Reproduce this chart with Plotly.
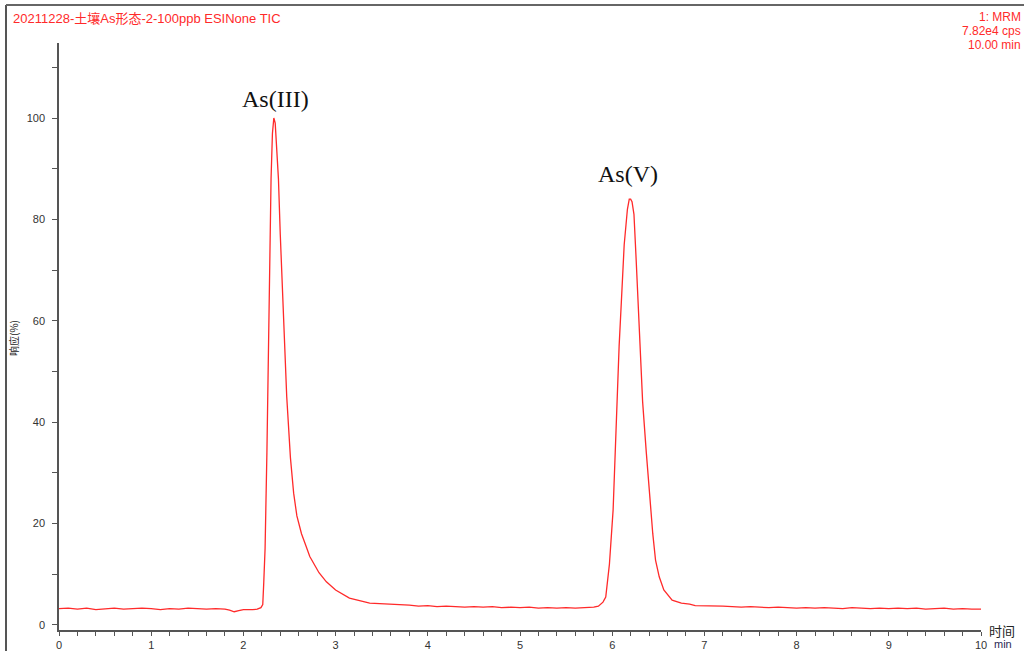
import plotly.graph_objects as go

# Retention time (min) and relative response (%) of the TIC trace
time_min = [
    0.00, 0.10, 0.20, 0.30, 0.40, 0.50, 0.60, 0.70, 0.80, 0.90,
    1.00, 1.10, 1.20, 1.30, 1.40, 1.50, 1.60, 1.70, 1.80, 1.85,
    1.90, 1.95, 2.00, 2.10, 2.15, 2.19,
    # As(III) peak
    2.21, 2.22, 2.235, 2.255, 2.27, 2.285, 2.30, 2.315, 2.33, 2.345,
    2.36, 2.38, 2.40, 2.43, 2.47, 2.51, 2.545, 2.58, 2.63, 2.67,
    2.72, 2.82, 2.90, 3.00, 3.15, 3.37, 3.50,
    # baseline between peaks
    3.60, 3.70, 3.80, 3.90, 4.00, 4.10, 4.20, 4.30, 4.40, 4.50,
    4.60, 4.70, 4.80, 4.90, 5.00, 5.10, 5.20, 5.30, 5.40, 5.50,
    5.60, 5.70, 5.80, 5.85, 5.90,
    # As(V) peak
    5.93, 5.97, 6.01, 6.03, 6.05, 6.075, 6.10, 6.12, 6.13, 6.15,
    6.165, 6.185, 6.20, 6.215, 6.236, 6.26, 6.28, 6.305, 6.33, 6.37,
    6.41, 6.44, 6.47, 6.51, 6.56, 6.65, 6.75, 6.84, 6.90,
    # tail baseline
    7.00, 7.10, 7.20, 7.30, 7.40, 7.50, 7.60, 7.70, 7.80, 7.90,
    8.00, 8.10, 8.20, 8.30, 8.40, 8.50, 8.60, 8.70, 8.80, 8.90,
    9.00, 9.10, 9.20, 9.30, 9.40, 9.50, 9.60, 9.70, 9.80, 9.90, 10.00,
]
response_pct = [
    3.2, 3.3, 3.1, 3.3, 3.0, 3.2, 3.3, 3.1, 3.2, 3.3,
    3.2, 3.0, 3.2, 3.1, 3.3, 3.2, 3.1, 3.2, 3.1, 2.9,
    2.6, 2.8, 3.0, 3.0, 3.1, 3.4,
    4.0, 8.0, 15.0, 34.0, 55.0, 75.0, 88.0, 97.0, 100.0, 99.0,
    95.0, 88.0, 77.0, 64.0, 45.0, 33.0, 26.0, 21.5, 18.0, 16.0,
    13.5, 10.3, 8.5, 6.9, 5.3, 4.3, 4.2,
    4.0, 3.9, 3.9, 3.7, 3.8, 3.6, 3.7, 3.6, 3.5, 3.6,
    3.5, 3.6, 3.4, 3.5, 3.4, 3.5, 3.3, 3.4, 3.3, 3.4,
    3.3, 3.4, 3.5, 3.7, 4.5,
    5.5, 12.0, 22.7, 33.0, 44.0, 55.0, 64.0, 72.0, 75.0, 79.0,
    82.0, 84.0, 84.0, 83.5, 81.0, 72.0, 64.0, 54.0, 44.0, 34.0,
    24.7, 18.0, 12.8, 9.5, 6.9, 4.9, 4.3, 4.1, 3.8,
    3.8, 3.7, 3.7, 3.6, 3.5, 3.6, 3.5, 3.4, 3.5, 3.4,
    3.3, 3.4, 3.3, 3.4, 3.3, 3.2, 3.4, 3.3, 3.2, 3.3,
    3.2, 3.3, 3.2, 3.3, 3.1, 3.2, 3.3, 3.1, 3.2, 3.1, 3.1,
]

# Peak labels: name, retention time, apex response
peak_names = ["As(III)", "As(V)"]
peak_times = [2.33, 6.20]
peak_apex = [100.0, 84.0]

title_text = "20211228-土壤As形态-2-100ppb ESINone TIC"
info_lines = ["1: MRM", "7.82e4 cps", "10.00 min"]

RED = "#ff2a2a"
AXIS = "#555555"
TXT = "#333333"
SANS = "Arial, Liberation Sans, Noto Sans CJK SC, sans-serif"

fig = go.Figure()
fig.add_trace(go.Scatter(
    x=time_min, y=response_pct, mode="lines",
    line=dict(color=RED, width=1.3), hoverinfo="skip", showlegend=False,
))

label_dx = [2, -3]
label_dy = [4, 10]
for name, t, h, dx, dy in zip(peak_names, peak_times, peak_apex, label_dx, label_dy):
    fig.add_annotation(
        x=t, y=h, text=name, showarrow=False, xref="x", yref="y",
        yanchor="bottom", xshift=dx, yshift=dy,
        font=dict(family="Times New Roman, Liberation Serif, serif", size=24, color="#111111"),
    )

W, H = 1024, 651
L, R, T, B = 59, 43, 43, 21
pw, ph = W - L - R, H - T - B


def px_x(p):
    return (p - L) / pw


def px_y(p):
    return (H - B - p) / ph


# Outer frame (left and top edges)
fig.add_shape(type="line", xref="paper", yref="paper",
              x0=px_x(6), x1=px_x(6), y0=px_y(660), y1=px_y(5),
              line=dict(color="#555555", width=2))
fig.add_shape(type="line", xref="paper", yref="paper",
              x0=px_x(6), x1=px_x(1030), y0=px_y(5), y1=px_y(5),
              line=dict(color="#666666", width=2))

# Header texts
fig.add_annotation(x=px_x(11), y=px_y(18), xref="paper", yref="paper",
                   text=title_text, showarrow=False, xanchor="left", yanchor="middle",
                   font=dict(family=SANS, size=13, color=RED))
for i, line in enumerate(info_lines):
    fig.add_annotation(x=px_x(1023), y=px_y(17 + 14 * i), xref="paper", yref="paper",
                       text=line, showarrow=False, xanchor="right", yanchor="middle",
                       font=dict(family=SANS, size=12, color=RED))

# Axis titles
fig.add_annotation(x=px_x(13), y=px_y(338), xref="paper", yref="paper",
                   text="响应(%)", showarrow=False, textangle=-90,
                   xanchor="center", yanchor="middle",
                   font=dict(family="Noto Sans CJK SC, sans-serif", size=10, color="#222222"))
fig.add_annotation(x=px_x(988), y=px_y(631), xref="paper", yref="paper",
                   text="时间", showarrow=False, xanchor="left", yanchor="middle",
                   borderpad=0,
                   font=dict(family="Noto Sans CJK SC, sans-serif", size=13, color="#222222"))
fig.add_annotation(x=px_x(993), y=px_y(644), xref="paper", yref="paper",
                   text="min", showarrow=False, xanchor="left", yanchor="middle",
                   borderpad=0,
                   font=dict(family=SANS, size=11, color="#2a2a55"))

fig.update_xaxes(
    range=[0, 10], tickmode="linear", tick0=0, dtick=1, automargin=False,
    showline=True, linecolor=AXIS, linewidth=1.5, showgrid=False, zeroline=False,
    ticks="outside", ticklen=4, tickcolor=AXIS, tickwidth=1.3,
    minor=dict(dtick=0.2, tick0=0, ticks="outside", ticklen=4, tickcolor=AXIS, tickwidth=1.3, showgrid=False),
    tickfont=dict(family=SANS, size=11, color=TXT),
)
fig.update_yaxes(
    range=[-1.0, 114.8], tickmode="linear", tick0=0, dtick=20, automargin=False,
    showline=True, linecolor=AXIS, linewidth=1.5, showgrid=False, zeroline=False,
    ticks="outside", ticklen=5, tickcolor=AXIS, tickwidth=1.3,
    minor=dict(dtick=10, tick0=0, ticks="outside", ticklen=5, tickcolor=AXIS, tickwidth=1.3, showgrid=False),
    tickfont=dict(family=SANS, size=11, color=TXT), ticklabelstandoff=5,
)

fig.update_layout(
    width=W, height=H, margin=dict(l=L, r=R, t=T, b=B),
    paper_bgcolor="white", plot_bgcolor="white", showlegend=False,
)

fig.write_html("out.html")
